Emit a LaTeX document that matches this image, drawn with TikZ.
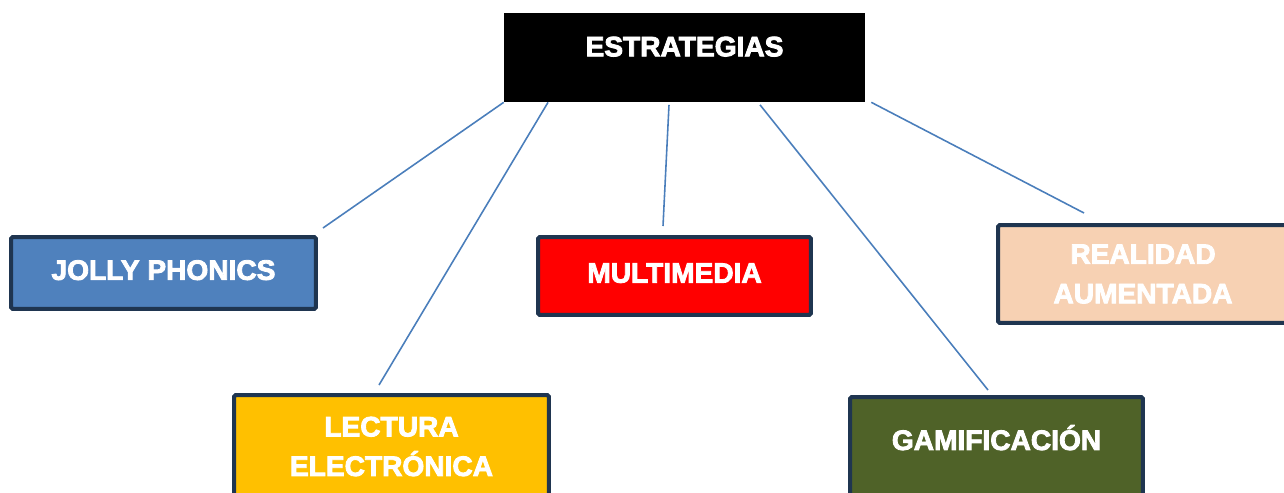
\documentclass[tikz,border=0pt]{standalone}
\usepackage{fontspec}
\usepackage{xcolor}
\usepackage{tikz}
\usetikzlibrary{positioning, arrows.meta}
\newfontfamily\heavyfont[BoldFeatures={FakeBold=3}]{Liberation Sans}
\definecolor{navyedge}{HTML}{1F3550}
\definecolor{linkblue}{HTML}{4A7EBB}
\definecolor{jollyblue}{HTML}{4F81BD}
\definecolor{peach}{HTML}{F7D1B3}
\definecolor{amber}{HTML}{FFC000}
\definecolor{olive}{HTML}{4F6228}

\begin{document}
\begin{tikzpicture}[
    x=0.02cm, y=-0.02cm,
    box/.style={draw=navyedge, line width=0.08cm, rounded corners=1pt, text=white, align=center,
        font=\heavyfont\bfseries\fontsize{16}{22.5}\selectfont},
    link/.style={draw=linkblue, line width=0.9pt}
]
\useasboundingbox (0,0) rectangle (1284,493);
\clip (0,0) rectangle (1284,493);

\node (est) at (684.5,57.5) [fill=black, text=white, minimum width=7.22cm, minimum height=1.78cm,
    text depth=0.44cm, font=\heavyfont\bfseries\fontsize{16}{22.5}\selectfont] {ESTRATEGIAS};
\node (jp) at (163.5,273) [box, fill=jollyblue, minimum width=6.10cm, minimum height=1.44cm, text depth=0.12cm] {JOLLY PHONICS};
\node (mm) at (674.5,276) [box, fill=red, minimum width=5.46cm, minimum height=1.56cm, text depth=0.12cm] {MULTIMEDIA};
\node (ra) at (1143,274) [box, fill=peach, minimum width=5.80cm, minimum height=1.96cm] {REALIDAD\\AUMENTADA};
\node (le) at (391.5,446.5) [box, fill=amber, minimum width=6.30cm, minimum height=2.06cm] {LECTURA\\ELECTRÓNICA};
\node (gam) at (996.5,447.5) [box, fill=olive, minimum width=5.86cm, minimum height=2.02cm, text depth=0.40cm] {GAMIFICACIÓN};

\draw[link] (est.south west) -- ([xshift=0.1cm, yshift=0.14cm]jp.north east);
\draw[link] ([xshift=-2.73cm]est.south) -- ([xshift=-0.25cm, yshift=0.16cm]le.north);
\draw[link] ([xshift=-0.31cm, yshift=-0.05cm]est.south) -- ([xshift=-0.23cm, yshift=0.18cm]mm.north);
\draw[link] ([xshift=1.51cm, yshift=-0.05cm]est.south) -- ([xshift=-0.17cm, yshift=0.1cm]gam.north);
\draw[link] ([xshift=0.12cm]est.south east) -- ([xshift=-1.18cm, yshift=0.2cm]ra.north);
\end{tikzpicture}
\end{document}
